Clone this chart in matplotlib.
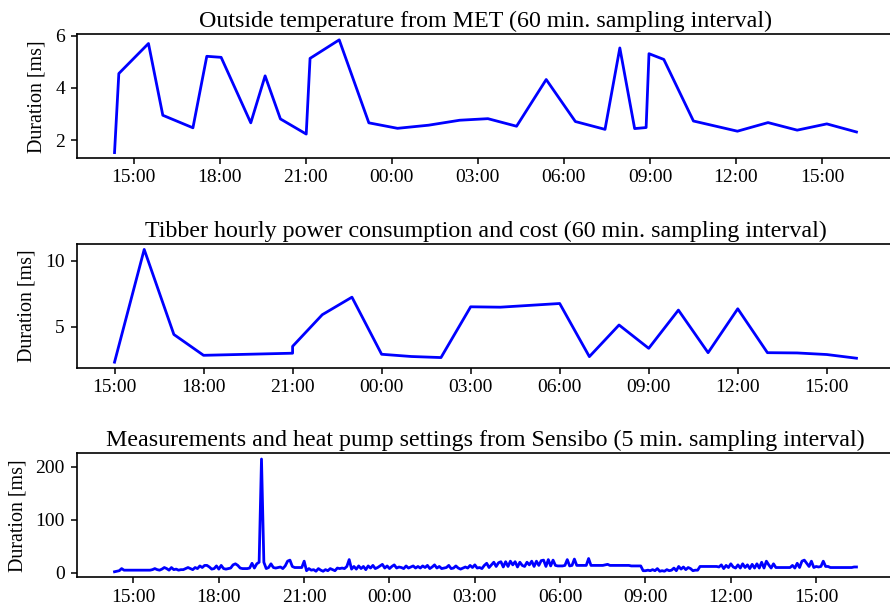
import pandas as pd
import matplotlib
matplotlib.use('Agg')
import matplotlib.pyplot as plt
import matplotlib.dates as mdates

plt.rcParams['font.family'] = ['Liberation Serif', 'DejaVu Serif']
plt.rcParams['font.size'] = 14
plt.rcParams['axes.linewidth'] = 1.2
plt.rcParams['xtick.major.size'] = 4.5
plt.rcParams['ytick.major.size'] = 4.5
plt.rcParams['xtick.major.width'] = 1.1
plt.rcParams['ytick.major.width'] = 1.1
plt.rcParams['ytick.major.pad'] = 4.5

# MET outside temperature fetch durations (irregular, ~hourly)
met_times = ['2023-01-16 14:20', '2023-01-16 14:29', '2023-01-16 15:31', '2023-01-16 16:01',
             '2023-01-16 17:04', '2023-01-16 17:33', '2023-01-16 18:03', '2023-01-16 19:05',
             '2023-01-16 19:35', '2023-01-16 20:07', '2023-01-16 21:01', '2023-01-16 21:09',
             '2023-01-16 22:10', '2023-01-16 23:12', '2023-01-17 00:12', '2023-01-17 01:17',
             '2023-01-17 02:22', '2023-01-17 03:21', '2023-01-17 04:21', '2023-01-17 05:23',
             '2023-01-17 06:24', '2023-01-17 07:26', '2023-01-17 07:57', '2023-01-17 08:28',
             '2023-01-17 08:52', '2023-01-17 08:58', '2023-01-17 09:29', '2023-01-17 10:31',
             '2023-01-17 12:03', '2023-01-17 13:07', '2023-01-17 14:08', '2023-01-17 15:10',
             '2023-01-17 16:12']
met_ms = [1.52, 4.55, 5.70, 2.95, 2.47, 5.21, 5.17, 2.66, 4.46, 2.81, 2.23, 5.13,
          5.84, 2.66, 2.45, 2.57, 2.76, 2.82, 2.53, 4.32, 2.71, 2.41, 5.53, 2.44,
          2.48, 5.31, 5.09, 2.73, 2.34, 2.67, 2.38, 2.62, 2.31]

# Tibber hourly
tibber_times = ['2023-01-16 15:00', '2023-01-16 16:00', '2023-01-16 17:00', '2023-01-16 18:00',
                '2023-01-16 21:00', '2023-01-16 21:00', '2023-01-16 22:00', '2023-01-16 23:00',
                '2023-01-17 00:00', '2023-01-17 01:00', '2023-01-17 02:00', '2023-01-17 03:00',
                '2023-01-17 04:00', '2023-01-17 06:00', '2023-01-17 07:00', '2023-01-17 08:00',
                '2023-01-17 09:00', '2023-01-17 10:00', '2023-01-17 11:00', '2023-01-17 12:00',
                '2023-01-17 13:00', '2023-01-17 14:00', '2023-01-17 15:00', '2023-01-17 16:00']
tibber_ms = [2.3, 10.85, 4.4, 2.82, 2.98, 3.5, 5.9, 7.23, 2.9, 2.73, 2.65, 6.5,
             6.47, 6.75, 2.72, 5.12, 3.35, 6.25, 3.02, 6.35, 3.02, 3.0, 2.88, 2.6]

# Sensibo, every 5 min from 14:20
sensibo_start = '2023-01-16 14:20'
sensibo_ms = [
    2, 3, 4, 8, 5, 5, 5, 5,
    5, 5, 5, 5, 5, 5, 5, 5, 6, 8, 6, 5,
    7, 10, 8, 5, 10, 6, 7, 5, 6, 6, 8, 10,
    8, 6, 10, 8, 13, 10, 14, 14, 11, 7, 8, 13,
    7, 14, 8, 7, 8, 9, 15, 17, 14, 9, 8, 8,
    8, 9, 18, 9, 17, 20, 215, 20, 8, 10, 17, 10,
    9, 10, 11, 8, 13, 22, 24, 12, 10, 10, 10, 10,
    22, 4, 8, 5, 6, 3, 8, 5, 3, 6, 4, 8,
    6, 4, 9, 8, 9, 8, 12, 25, 7, 12, 7, 13,
    8, 12, 6, 13, 9, 14, 8, 10, 13, 16, 9, 13,
    8, 12, 15, 9, 11, 10, 8, 13, 9, 11, 13, 9,
    12, 9, 13, 10, 14, 8, 11, 15, 9, 12, 8, 9,
    10, 14, 8, 9, 13, 9, 7, 9, 11, 9, 14, 10,
    15, 9, 10, 8, 14, 18, 10, 15, 20, 12, 19, 21,
    11, 21, 12, 22, 15, 21, 11, 20, 14, 12, 20, 15,
    22, 12, 22, 14, 23, 24, 12, 25, 13, 24, 14, 13,
    13, 13, 14, 25, 13, 14, 26, 14, 14, 14, 14, 14,
    27, 14, 14, 14, 14, 14, 14, 15, 16, 14, 14, 14,
    14, 14, 14, 14, 14, 14, 13, 13, 13, 13, 13, 4,
    4, 5, 4, 6, 4, 8, 3, 4, 3, 6, 4, 5,
    9, 4, 12, 7, 11, 6, 10, 8, 4, 5, 5, 12,
    12, 12, 12, 12, 12, 12, 12, 11, 15, 8, 14, 10,
    17, 11, 9, 15, 9, 17, 10, 15, 8, 16, 9, 17,
    9, 20, 9, 22, 15, 9, 17, 10, 10, 10, 10, 10,
    10, 10, 14, 9, 18, 10, 22, 24, 18, 12, 22, 10,
    12, 11, 12, 22, 12, 12, 10, 10, 10, 10, 10, 10,
    10, 10, 10, 10, 11, 11]
sensibo_times = pd.date_range(sensibo_start, periods=len(sensibo_ms), freq='5min')

titles = ['Outside temperature from MET (60 min. sampling interval)',
          'Tibber hourly power consumption and cost (60 min. sampling interval)',
          'Measurements and heat pump settings from Sensibo (5 min. sampling interval)']

fig, axes = plt.subplots(3, 1, figsize=(8.9, 6.11), dpi=100)
fig.subplots_adjust(left=0.087, right=1.004, top=0.944, bottom=0.055, hspace=0.69)

series = [(pd.to_datetime(met_times), met_ms),
          (pd.to_datetime(tibber_times), tibber_ms),
          (sensibo_times, sensibo_ms)]
yticks = [[2, 4, 6], [5, 10], [0, 100, 200]]

for ax, (t, v), title, yt in zip(axes, series, titles, yticks):
    ax.plot(t, v, color='#0000ff', linewidth=2.0)
    ax.set_title(title, fontsize=17.3, pad=5)
    ax.set_ylabel('Duration [ms]', fontsize=14.4, labelpad=6)
    ax.set_yticks(yt)
    ax.xaxis.set_major_locator(mdates.HourLocator(byhour=range(0, 24, 3)))
    ax.xaxis.set_major_formatter(mdates.DateFormatter('%H:%M'))
    ax.spines['right'].set_visible(False)

fig.savefig('out.png', dpi=100)
